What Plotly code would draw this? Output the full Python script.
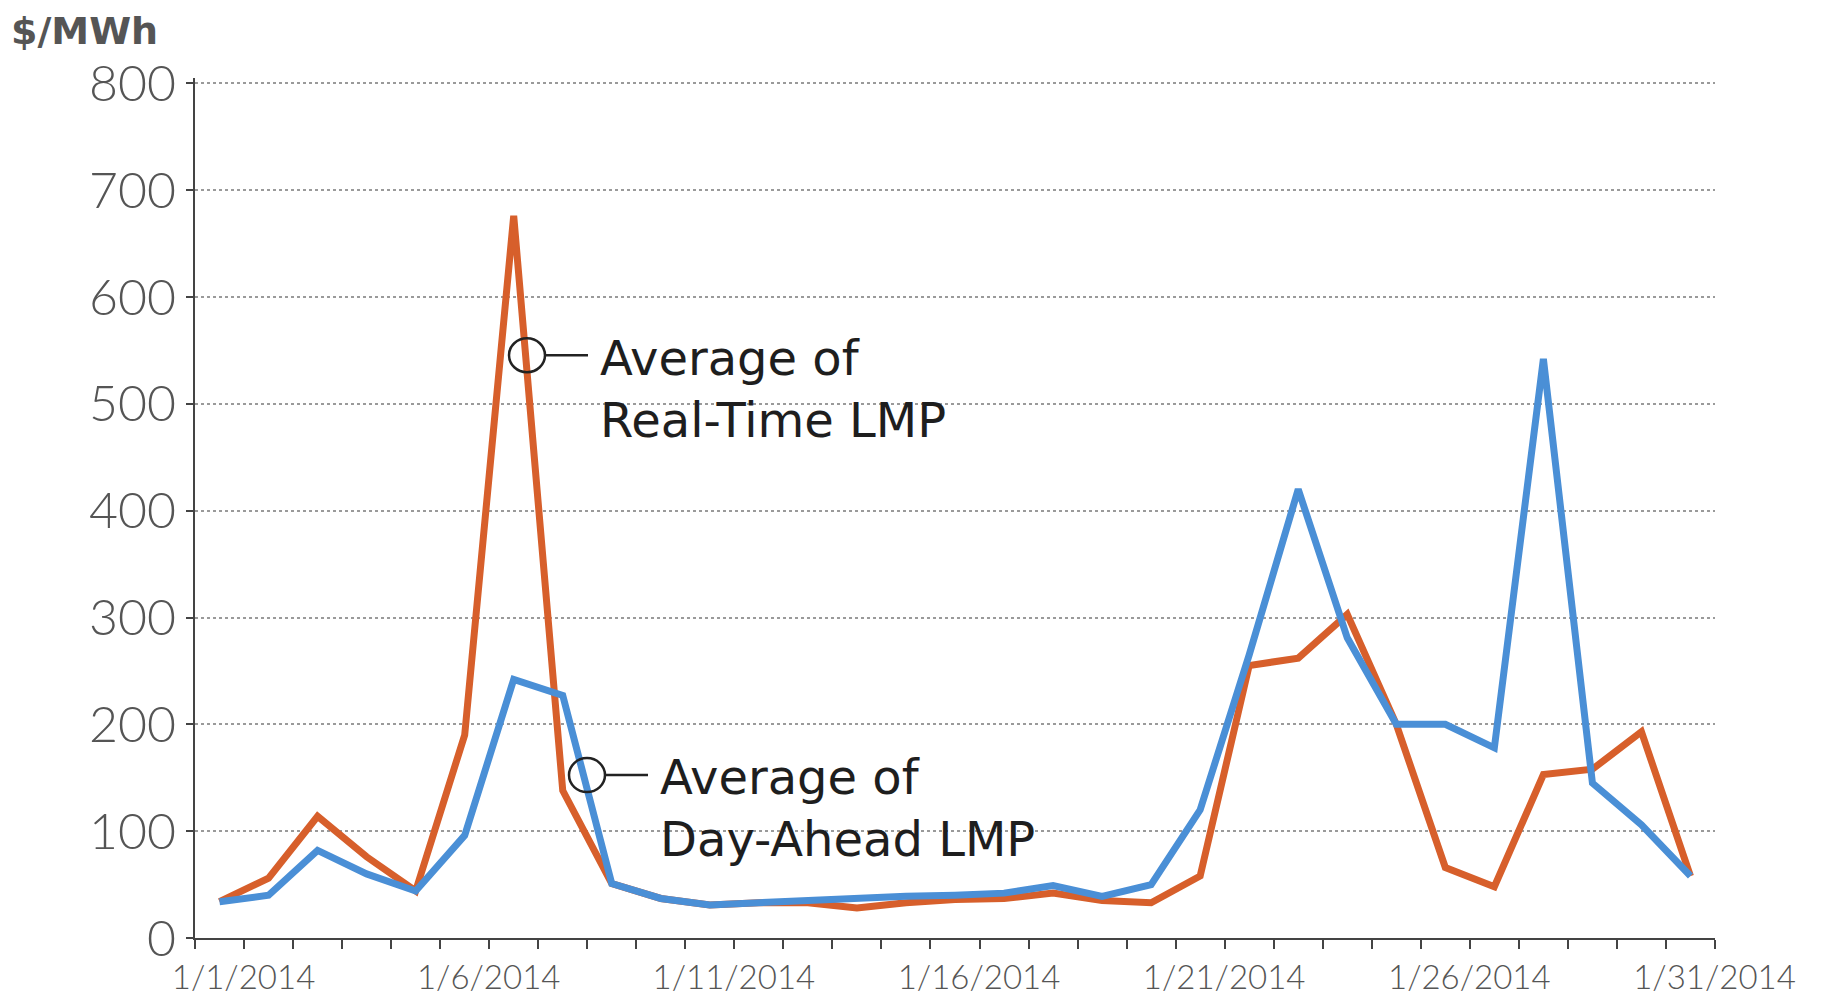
import plotly.graph_objects as go

# Daily averages, January 2014 ($/MWh)
days = [f"2014-01-{d:02d}" for d in range(1, 32)]
real_time = [34, 56, 114, 76, 44, 190, 676, 138, 51, 37, 31, 33, 33, 28, 33, 36,
             37, 42, 35, 33, 58, 255, 262, 303, 200, 66, 48, 153, 158, 193, 58]
day_ahead = [34, 40, 82, 60, 44, 96, 242, 227, 51, 37, 31, 33, 36, 37, 39, 40,
             42, 49, 39, 50, 120, 265, 420, 281, 200, 200, 178, 542, 145, 106, 58]

tick_days = ["2014-01-01", "2014-01-06", "2014-01-11", "2014-01-16",
             "2014-01-21", "2014-01-26", "2014-01-31"]
tick_labels = ["1/1/2014", "1/6/2014", "1/11/2014", "1/16/2014",
               "1/21/2014", "1/26/2014", "1/31/2014"]
y_ticks = [0, 100, 200, 300, 400, 500, 600, 700, 800]

fig = go.Figure()

fig.add_trace(go.Scatter(
    x=days, y=real_time, mode="lines", name="Average of Real-Time LMP",
    line=dict(color="#d75f2b", width=7), showlegend=False
))
fig.add_trace(go.Scatter(
    x=days, y=day_ahead, mode="lines", name="Average of Day-Ahead LMP",
    line=dict(color="#4a8fd6", width=7), showlegend=False
))

# page has an 8px body margin, so the figure is drawn 8px smaller and offset
OFF = 8
W, H = 1824 - 2 * OFF, 1006 - 2 * OFF
YMAX = 805
L, R, B = 195, 1715, 938
T = B - (B - 83) * YMAX / 800


def px(x):
    return (x - L) / (R - L)


def py(y):
    return (B - y) / (B - T)


# callout markers: circle + short leader line
shapes = []
for cx, cy in [(527, 355), (587, 775)]:
    shapes.append(dict(type="circle", xref="paper", yref="paper",
                       x0=px(cx - 18), x1=px(cx + 18), y0=py(cy + 17), y1=py(cy - 17),
                       line=dict(color="#222", width=2.5)))
    shapes.append(dict(type="line", xref="paper", yref="paper",
                       x0=px(cx + 18), x1=px(cx + 61), y0=py(cy), y1=py(cy),
                       line=dict(color="#222", width=2.5)))

annotations = [
    dict(text="Average of<br>Real-Time LMP", xref="paper", yref="paper",
         x=px(598), y=py(389), xanchor="left", yanchor="middle", showarrow=False,
         align="left", font=dict(family="DejaVu Sans", size=48, color="#1e1e1e")),
    dict(text="Average of<br>Day-Ahead LMP", xref="paper", yref="paper",
         x=px(658), y=py(808), xanchor="left", yanchor="middle", showarrow=False,
         align="left", font=dict(family="DejaVu Sans", size=48, color="#1e1e1e")),
    dict(text="<b>$/MWh</b>", xref="paper", yref="paper",
         x=px(10), y=py(8), xanchor="left", yanchor="top", showarrow=False,
         borderpad=0, font=dict(family="DejaVu Sans", size=38, color="#555")),
]

fig.update_layout(
    width=W, height=H,
    margin=dict(l=L - OFF, r=W - (R - OFF), t=T - OFF, b=H - (B - OFF)),
    paper_bgcolor="white", plot_bgcolor="white",
    shapes=shapes, annotations=annotations,
)

fig.update_xaxes(
    type="date", automargin=False,
    range=["2013-12-31 12:00", "2014-01-31 12:00"],
    tickvals=tick_days, ticktext=tick_labels,
    ticks="", ticklabelshift=24, ticklabelstandoff=9,
    tickfont=dict(family="Lato", size=33, color="#555", weight=300),
    showgrid=False, zeroline=False,
    showline=True, linecolor="#444", linewidth=2,
    minor=dict(ticks="outside", tick0="2013-12-31 12:00", dtick=86400000,
               ticklen=9, tickwidth=2, tickcolor="#444", showgrid=False),
)

fig.update_yaxes(
    automargin=False,
    range=[0, YMAX], tickvals=y_ticks,
    ticks="outside", ticklen=7, tickwidth=2, tickcolor="#444",
    ticklabelstandoff=0,
    tickfont=dict(family="Lato", size=50, color="#555", weight=300),
    showgrid=True, gridcolor="#9a9a9a", gridwidth=1.5, griddash="dot",
    zeroline=False, showline=True, linecolor="#444", linewidth=2,
)

fig.write_html("out.html")
